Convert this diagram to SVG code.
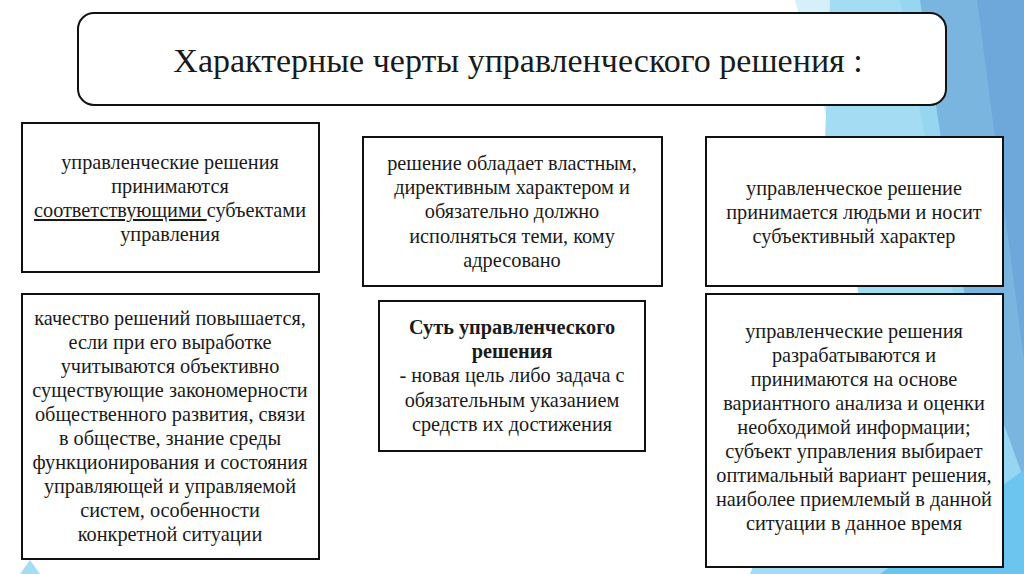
<svg xmlns="http://www.w3.org/2000/svg" width="1024" height="574" viewBox="0 0 1024 574" font-family="Liberation Serif, Times New Roman, serif">
<style>
.box{fill:#fff;stroke:#111;stroke-width:2}
.t{font-family:'Liberation Serif','Times New Roman',serif;font-size:20.3px;fill:#1a1a1a;text-anchor:middle}
.b{font-weight:bold}
.title{font-family:'Liberation Serif','Times New Roman',serif;font-size:34px;fill:#1a1a1a;text-anchor:middle}
</style>
<rect width="1024" height="574" fill="#fff"/>
<g id="background">
<polygon points="795,0 870,0 835,150" fill="#d6f0fa"/>
<polygon points="830,0 1024,0 1024,574 750,574 860,300 825,140" fill="#a3dcf3"/>
<polygon points="900,0 1024,0 1024,574 890,574 960,330" fill="#8fd2f0" opacity="0.6"/>
<polygon points="920,0 1024,0 1024,480 970,330" fill="#7ab5e0"/>
<polygon points="977,0 1024,0 1024,360" fill="#6ea8da"/>
<polygon points="880,574 1024,574 1024,470" fill="#6cc5ee"/>
<polygon points="20,574 40,574 30,560" fill="#a3dcf3"/>
</g>
<g id="title">
<rect class="box" x="78" y="13" width="868" height="92" rx="16"/>
<text class="title" x="518" y="72">Характерные черты управленческого решения :</text>
</g>
<g id="node1">
<rect class="box" x="22" y="123" width="297" height="149"/>
<text class="t" x="170" y="169">управленческие решения</text>
<text class="t" x="170" y="193">принимаются</text>
<text class="t" x="170" y="217"><tspan text-decoration="underline">соответствующими </tspan>субъектами</text>
<text class="t" x="170" y="241">управления</text>
</g>
<g id="node2">
<rect class="box" x="363" y="137" width="299" height="149"/>
<text class="t" x="512" y="170">решение обладает властным,</text>
<text class="t" x="512" y="194">директивным характером и</text>
<text class="t" x="512" y="218">обязательно должно</text>
<text class="t" x="512" y="243">исполняться теми, кому</text>
<text class="t" x="512" y="267">адресовано</text>
</g>
<g id="node3">
<rect class="box" x="706" y="137" width="297" height="149"/>
<text class="t" x="854" y="195">управленческое решение</text>
<text class="t" x="854" y="219">принимается людьми и носит</text>
<text class="t" x="854" y="243">субъективный характер</text>
</g>
<g id="node4">
<rect class="box" x="22" y="294" width="297" height="265"/>
<text class="t" x="170" y="325">качество решений повышается,</text>
<text class="t" x="170" y="349">если при его выработке</text>
<text class="t" x="170" y="373">учитываются объективно</text>
<text class="t" x="170" y="397">существующие закономерности</text>
<text class="t" x="170" y="421">общественного развития, связи</text>
<text class="t" x="170" y="445">в обществе, знание среды</text>
<text class="t" x="170" y="469">функционирования и состояния</text>
<text class="t" x="170" y="493">управляющей и управляемой</text>
<text class="t" x="170" y="517">систем, особенности</text>
<text class="t" x="170" y="541">конкретной ситуации</text>
</g>
<g id="node5">
<rect class="box" x="379" y="301" width="266" height="150"/>
<text class="t b" x="512" y="334">Суть управленческого</text>
<text class="t b" x="512" y="358">решения</text>
<text class="t" x="512" y="382">- новая цель либо задача с</text>
<text class="t" x="512" y="407">обязательным указанием</text>
<text class="t" x="512" y="431">средств их достижения</text>
</g>
<g id="node6">
<rect class="box" x="706" y="294" width="297" height="273"/>
<text class="t" x="854" y="338">управленческие решения</text>
<text class="t" x="854" y="362">разрабатываются и</text>
<text class="t" x="854" y="386">принимаются на основе</text>
<text class="t" x="854" y="410">вариантного анализа и оценки</text>
<text class="t" x="854" y="434">необходимой информации;</text>
<text class="t" x="854" y="458">субъект управления выбирает</text>
<text class="t" x="854" y="482">оптимальный вариант решения,</text>
<text class="t" x="854" y="506">наиболее приемлемый в данной</text>
<text class="t" x="854" y="530">ситуации в данное время</text>
</g>
<g id="connectors"/>
</svg>
